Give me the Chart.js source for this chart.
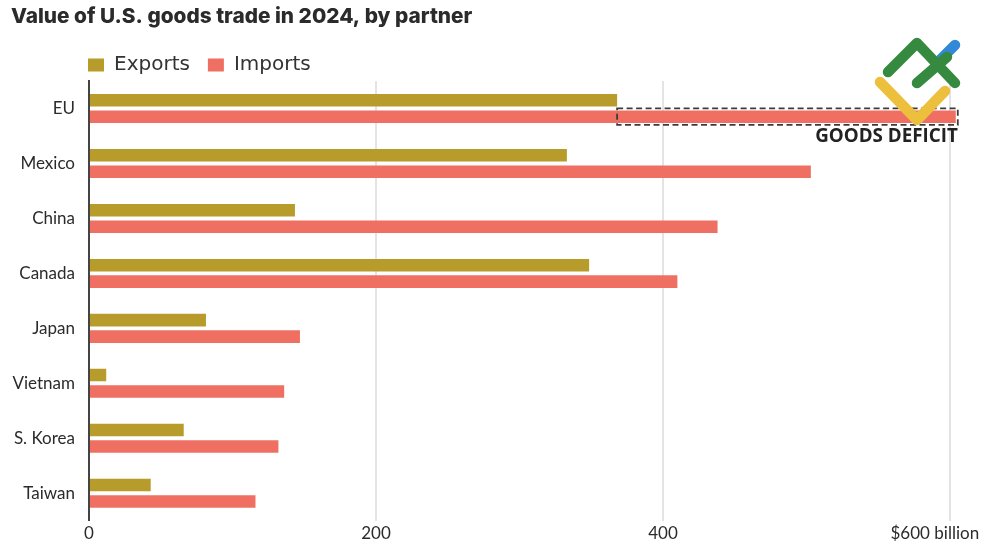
<!DOCTYPE html>
<html>
<head>
<meta charset="utf-8">
<title>Value of U.S. goods trade in 2024, by partner</title>
<script src="https://cdn.jsdelivr.net/npm/chart.js@4"></script>
<style>
  html, body { margin: 0; padding: 0; background: #fff; }
  #wrap { width: 1000px; height: 545px; }
</style>
</head>
<body>
<div id="wrap"><canvas id="chart"></canvas></div>
<script>
const partners = ['EU', 'Mexico', 'China', 'Canada', 'Japan', 'Vietnam', 'S. Korea', 'Taiwan']
const exportsBn = [368, 333, 143.5, 348.5, 81.5, 12, 66, 43]
const importsBn = [604, 503, 438, 410, 147, 136, 132, 116]
const xTicks = [0, 200, 400, 600]

const EXPORT_COLOR = '#b79b2b'
const IMPORT_COLOR = '#ef7063'
const TEXT_COLOR = '#2b2b2b'

// legend normally starts at the canvas edge, move it over the axis
const legendShift = {
  id: 'legendShift',
  afterLayout(chart) {
    chart.legend.left = chart.chartArea.left - 1 - chart.legend.options.labels.padding
    chart.legend.top += 4
  }
}

const deficitBox = {
  id: 'deficitBox',
  afterDatasetsDraw(chart) {
    const { ctx, scales } = chart
    const bar = chart.getDatasetMeta(1).data[0]
    const left = scales.x.getPixelForValue(exportsBn[0])
    const right = bar.x + 2
    const top = bar.y - bar.height / 2 - 2
    const bottom = bar.y + bar.height / 2 + 2
    ctx.save()
    ctx.strokeStyle = '#3c3c3c'
    ctx.lineWidth = 1.8
    ctx.setLineDash([6, 3.5])
    ctx.strokeRect(left, top, right - left, bottom - top)
    ctx.setLineDash([])
    ctx.fillStyle = '#222'
    ctx.font = 'bold 18.8px "Open Sans"'
    ctx.textAlign = 'right'
    ctx.textBaseline = 'middle'
    ctx.fillText('GOODS DEFICIT', right, bottom + 12)
    ctx.restore()
  }
}

// watermark in the top right corner
const logoMark = {
  id: 'logoMark',
  afterDraw(chart) {
    const { ctx } = chart
    const strokes = [
      ['#3389d8', [[940, 60], [955, 45]]],
      ['#358a3f', [[888, 72], [917, 43], [955, 83]]],
      ['#358a3f', [[917, 83], [947, 57]]],
      ['#ecc03c', [[880, 82], [917, 120], [945, 91]]]
    ]
    ctx.save()
    ctx.lineWidth = 10.5
    ctx.lineCap = 'round'
    ctx.lineJoin = 'round'
    strokes.forEach(([color, pts]) => {
      ctx.strokeStyle = color
      ctx.beginPath()
      pts.forEach(([x, y], i) => (i ? ctx.lineTo(x, y) : ctx.moveTo(x, y)))
      ctx.stroke()
    })
    ctx.restore()
  }
}

new Chart(document.getElementById('chart'), {
  type: 'bar',
  data: {
    labels: partners,
    datasets: [
      { label: 'Exports', data: exportsBn, backgroundColor: EXPORT_COLOR },
      { label: 'Imports', data: importsBn, backgroundColor: IMPORT_COLOR }
    ]
  },
  plugins: [legendShift, deficitBox, logoMark],
  options: {
    indexAxis: 'y',
    responsive: true,
    maintainAspectRatio: false,
    animation: false,
    datasets: { bar: { categoryPercentage: 0.6, barPercentage: 0.76 } },
    layout: { padding: { left: 11, top: 4, right: 35.6, bottom: 0 } },
    plugins: {
      title: {
        display: true,
        text: 'Value of U.S. goods trade in 2024, by partner',
        align: 'start',
        color: TEXT_COLOR,
        font: { family: 'Inter', size: 20.8, weight: 800 },
        padding: { top: 0, bottom: 4 }
      },
      legend: {
        position: 'top',
        align: 'start',
        labels: {
          boxWidth: 16,
          boxHeight: 13,
          padding: 18,
          color: '#333',
          font: { family: 'DejaVu Sans', size: 20 }
        }
      },
      tooltip: { enabled: false }
    },
    scales: {
      x: {
        min: 0,
        max: 610,
        afterBuildTicks(axis) {
          axis.ticks = xTicks.map(value => ({ value }))
        },
        afterFit(axis) {
          axis.height = 24
          axis.paddingLeft = 0
          axis.paddingRight = 0
        },
        border: { display: false },
        grid: { color: '#e4e4e4', lineWidth: 2, drawTicks: false },
        ticks: {
          padding: 3,
          maxRotation: 0,
          color: TEXT_COLOR,
          font: { family: 'Lato', size: 17 },
          callback: value => (value === 600 ? '$600 billion\u00a0\u00a0\u00a0\u00a0\u00a0\u00a0\u00a0' : value)
        }
      },
      y: {
        afterFit(axis) {
          axis.width = 78
        },
        border: { color: '#444', width: 2 },
        grid: { display: false, drawTicks: false },
        ticks: {
          padding: 14,
          color: TEXT_COLOR,
          font: { family: 'Lato', size: 17 }
        }
      }
    }
  }
})
</script>
</body>
</html>
